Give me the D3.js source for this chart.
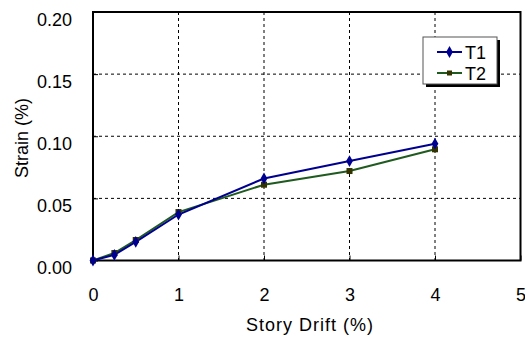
<!DOCTYPE html>
<html><head><meta charset="utf-8">
<script src="https://cdn.jsdelivr.net/npm/d3@7"></script>
<style>body{margin:0;background:#fff;} text{font-family:"Liberation Sans",Arial,sans-serif;}</style>
</head><body>
<svg id="c" width="525" height="337"></svg>
<script>
const drift = [0, 0.25, 0.5, 1, 2, 3, 4];
const t1 = [0, 0.0045, 0.015, 0.037, 0.066, 0.080, 0.094];
const t2 = [0, 0.0060, 0.0165, 0.039, 0.061, 0.072, 0.0895];
const xTicks = [0, 1, 2, 3, 4, 5];
const yTicks = [0, 0.05, 0.10, 0.15, 0.20];
const seriesNames = ["T1", "T2"];

const svg = d3.select("#c");
const L = 93, R = 520.5, T = 12, B = 260.5;
const x = d3.scaleLinear().domain([0, 5]).range([L, R]);
const y = d3.scaleLinear().domain([0, 0.2]).range([B, T]);

svg.append("g").selectAll("line").data(xTicks.slice(1, -1)).join("line")
  .attr("x1", d => x(d)).attr("x2", d => x(d)).attr("y1", T).attr("y2", B)
  .attr("stroke", "#000").attr("stroke-width", 1).attr("stroke-dasharray", "3,3");
svg.append("g").selectAll("line").data(yTicks.slice(1, -1)).join("line")
  .attr("x1", L).attr("x2", R).attr("y1", d => y(d)).attr("y2", d => y(d))
  .attr("stroke", "#000").attr("stroke-width", 1).attr("stroke-dasharray", "3,3");

const xAxis = d3.axisBottom(x).tickValues(xTicks).tickSize(-5).tickFormat(d3.format("d"));
const gx = svg.append("g").attr("transform", `translate(0,${B})`).call(xAxis);
gx.select(".domain").remove();
gx.selectAll("line").attr("stroke", "#000");
gx.selectAll("text").attr("font-size", 18).attr("fill", "#000").attr("y", 40.5).attr("dy", 0)
  .attr("font-family", "Liberation Sans, Arial, sans-serif");

const yAxis = d3.axisLeft(y).tickValues(yTicks).tickSize(-5).tickFormat(d3.format(".2f"));
const gy = svg.append("g").attr("transform", `translate(${L},0)`).call(yAxis);
gy.select(".domain").remove();
gy.selectAll("line").attr("stroke", "#000");
gy.selectAll("text").attr("font-size", 18).attr("fill", "#000").attr("x", -21).attr("dy", 13)
  .attr("font-family", "Liberation Sans, Arial, sans-serif");

svg.append("rect").attr("x", L).attr("y", T).attr("width", R - L).attr("height", B - T)
  .attr("fill", "none").attr("stroke", "#000").attr("stroke-width", 2);

const line = d3.line().x((d, i) => x(drift[i])).y(d => y(d));
svg.append("path").datum(t2).attr("d", line).attr("fill", "none").attr("stroke", "#1f5a1f").attr("stroke-width", 2);
svg.append("path").datum(t1).attr("d", line).attr("fill", "none").attr("stroke", "#000090").attr("stroke-width", 2);
const diamond = d3.symbol().type(d3.symbolDiamond).size(40);
svg.append("g").selectAll("rect").data(t2).join("rect")
  .attr("x", (d, i) => x(drift[i]) - 3).attr("y", d => y(d) - 3).attr("width", 6).attr("height", 6)
  .attr("fill", "#333300");
svg.append("g").selectAll("path").data(t1).join("path")
  .attr("d", diamond).attr("transform", (d, i) => `translate(${x(drift[i])},${y(d)})`)
  .attr("fill", "#000090");

const lg = svg.append("g");
lg.append("rect").attr("x", 426).attr("y", 40).attr("width", 74).attr("height", 47).attr("fill", "#000");
lg.append("rect").attr("x", 423).attr("y", 37).attr("width", 74).attr("height", 47).attr("fill", "#fff").attr("stroke", "#555").attr("stroke-width", 1);
const lyPos = [52, 73];
const colors = ["#000090", "#1f5a1f"];
seriesNames.forEach((n, i) => {
  lg.append("line").attr("x1", 437).attr("x2", 462).attr("y1", lyPos[i]).attr("y2", lyPos[i]).attr("stroke", colors[i]).attr("stroke-width", 2);
  if (i === 0) lg.append("path").attr("d", diamond).attr("transform", `translate(449.5,${lyPos[i]})`).attr("fill", "#000090");
  else lg.append("rect").attr("x", 447).attr("y", lyPos[i] - 2.5).attr("width", 5).attr("height", 5).attr("fill", "#333300");
  lg.append("text").attr("x", 465).attr("y", lyPos[i] + 6.5).attr("font-size", 18).text(n);
});

svg.append("text").attr("x", 310).attr("y", 331).attr("text-anchor", "middle").attr("font-size", 18).attr("letter-spacing", 1).text("Story Drift (%)");
svg.append("text").attr("transform", "translate(28,138) rotate(-90)").attr("text-anchor", "middle").attr("font-size", 18).text("Strain (%)");
</script>
</body></html>
